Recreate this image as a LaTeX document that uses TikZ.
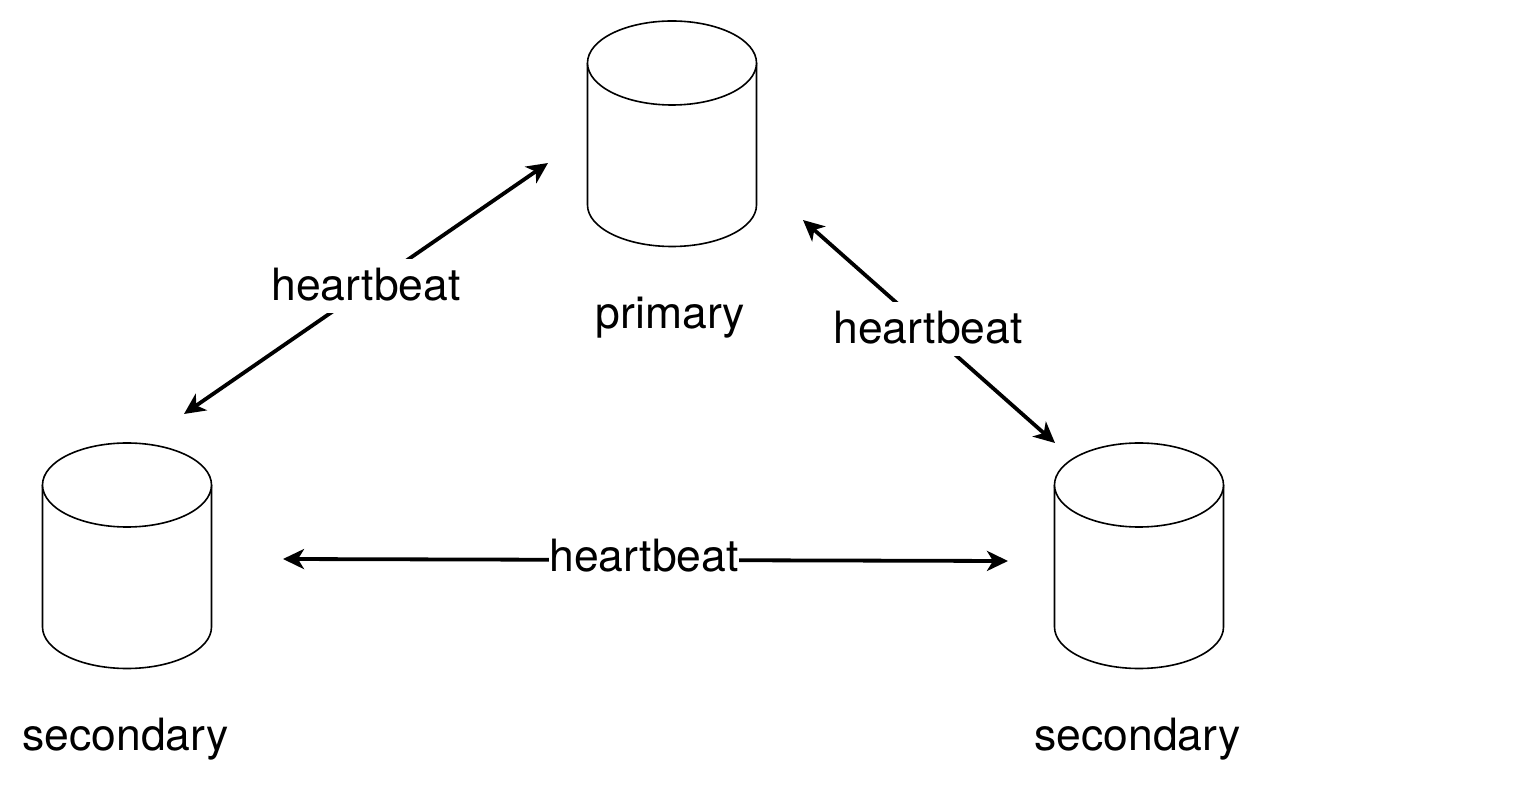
\documentclass[tikz,border=0pt]{standalone}
\usepackage{fontspec}
\setmainfont{TeX Gyre Heros}
\usetikzlibrary{arrows.meta}
\tikzset{
  lbl/.style={font=\fontsize{44.5}{50}\selectfont, inner sep=0pt, text=black},
  edgelbl/.style={lbl, fill=white, inner xsep=1pt, inner ysep=9pt, text depth=4pt},
  hb/.style={draw=black, line width=3.8pt, {Stealth[length=21pt,width=20pt,inset=6pt]}-{Stealth[length=21pt,width=20pt,inset=6pt]}},
  cyl/.style={draw=black, line width=1.6pt, fill=white}
}
\newcommand{\dbcyl}[3]{% cx, top y (ellipse centre), name
  \draw[cyl] (#1-84.5,#2) -- (#1-84.5,#2-142) arc[start angle=180,end angle=360,x radius=84.5,y radius=41.5] -- (#1+84.5,#2) ;
  \draw[cyl] (#1,#2) ellipse[x radius=84.5,y radius=42];
  \coordinate (#3) at (#1,#2-72);
}
\begin{document}
\begin{tikzpicture}[x=1pt,y=1pt]
\useasboundingbox (0,0) rectangle (1532,788);
\dbcyl{672}{725}{P}
\dbcyl{127}{303}{L}
\dbcyl{1139}{303}{R}
\node[lbl] (pl) at (670.5,470) {primary};
\node[lbl] (sl) at (125.5,49) {secondary};
\node[lbl] (sr) at (1137.5,49) {secondary};
\coordinate (a1) at (184,374);
\coordinate (a2) at (548,625);
\coordinate (b1) at (803,568);
\coordinate (b2) at (1055,345);
\coordinate (c1) at (283,229);
\coordinate (c2) at (1008,227);
\draw[hb] (a1) -- (a2);
\draw[hb] (b1) -- (b2);
\draw[hb] (c1) -- (c2);
\node[edgelbl] (h1) at (366,502) {heartbeat};
\node[edgelbl] (h2) at (928,459) {heartbeat};
\node[edgelbl, inner ysep=2pt, inner xsep=0pt] (h3) at (644,231) {heartbeat};
\end{tikzpicture}
\end{document}
